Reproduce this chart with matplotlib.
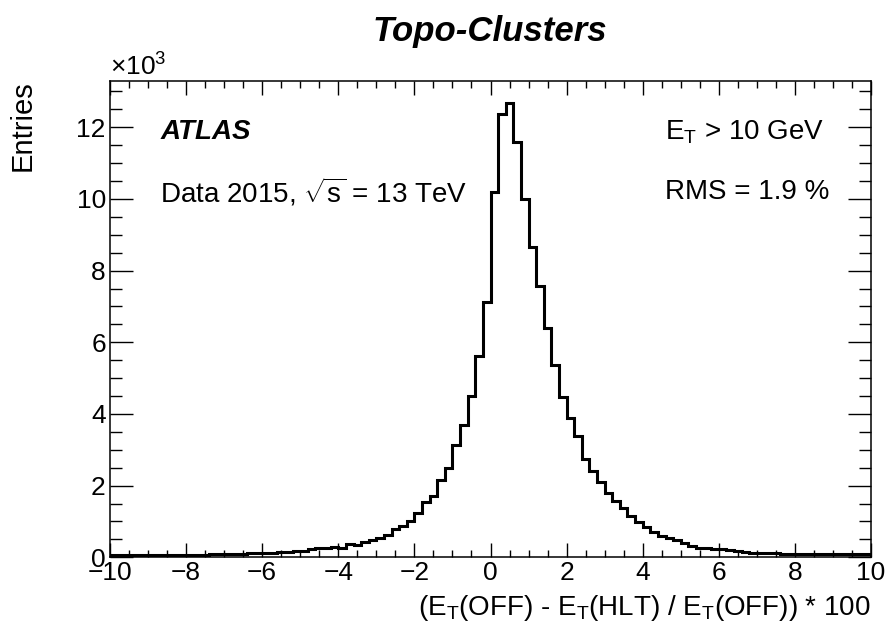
import numpy as np
import matplotlib
matplotlib.use('Agg')
import matplotlib.pyplot as plt
from matplotlib.ticker import MultipleLocator, FuncFormatter

plt.rcParams['font.family'] = ['Liberation Sans', 'DejaVu Sans']
plt.rcParams['mathtext.fontset'] = 'custom'
plt.rcParams['mathtext.rm'] = 'Liberation Sans'
plt.rcParams['mathtext.it'] = 'Liberation Sans:italic'

# histogram range and entries per 0.2 wide bin
x_lo, x_hi, n_bins = -10., 10., 100
entries = [
    60, 60, 62, 62, 65, 65, 68, 68, 70, 72,
    72, 75, 78, 80, 85, 90, 95, 100, 110, 120,
    130, 130, 140, 150, 170, 190, 220, 250, 250,
    280, 270, 360, 340, 420, 470, 530, 620, 780, 870, 1010, 1230,
    1540, 1720, 2160, 2490, 3140, 3700, 4490, 5630, 7130,
    10200, 12380, 12680, 11580, 10000, 8650, 7560, 6400, 5370, 4470,
    3900, 3390, 2740, 2410, 2090, 1790, 1570, 1370, 1140, 980,
    850, 700, 600, 550, 480, 390, 320, 270, 250, 240,
    220, 200, 180, 160, 130,
    120, 110, 110, 100, 100, 100, 90, 90, 90, 80,
    80, 80, 80, 80, 90]

edges = np.linspace(x_lo, x_hi, n_bins + 1)

fig = plt.figure(figsize=(8.89, 6.4), dpi=100)
ax = fig.add_axes([0.1237, 0.1292, 0.8561, 0.7448])

ax.stairs(entries, edges, color='black', lw=2.2, baseline=0)

ax.set_xlim(x_lo, x_hi)
ax.set_ylim(0, 13300)

ax.xaxis.set_major_locator(MultipleLocator(2))
ax.xaxis.set_minor_locator(MultipleLocator(0.5))
ax.yaxis.set_major_locator(MultipleLocator(2000))
ax.yaxis.set_minor_locator(MultipleLocator(500))
ax.yaxis.set_major_formatter(FuncFormatter(lambda v, p: '%d' % round(v / 1000)))
ax.xaxis.set_major_formatter(FuncFormatter(
    lambda v, p: ('%d' % v).replace('-', '\u2212')))

ax.tick_params(axis='both', which='both', direction='in', top=True,
               right=True, labelsize=19, width=1)
ax.tick_params(axis='x', which='major', length=10, pad=3)
ax.tick_params(axis='x', which='minor', length=5)
ax.tick_params(axis='y', which='major', length=16.5, pad=3)
ax.tick_params(axis='y', which='minor', length=8.5)
for sp in ax.spines.values():
    sp.set_linewidth(1.1)

ax.set_xlabel(r'($\mathrm{E_T}$(OFF) - $\mathrm{E_T}$(HLT) / $\mathrm{E_T}$(OFF)) * 100',
              fontsize=20, loc='right')
ax.xaxis.set_label_coords(1.0, -0.075)
ax.set_ylabel('Entries', fontsize=21, loc='top')
ax.yaxis.set_label_coords(-0.096, 1.0)

ax.text(0.0, 1.0, r'$\times$10$^3$', transform=ax.transAxes,
        fontsize=19, ha='left', va='bottom')

fig.text(0.551, 0.951, 'Topo-Clusters', fontsize=25, fontweight='bold',
         fontstyle='italic', ha='center', va='center')

ax.text(0.066, 0.892, 'ATLAS', transform=ax.transAxes, fontsize=20,
        fontweight='bold', fontstyle='italic', ha='left', va='center')
ax.text(0.066, 0.766, r'Data 2015, $\sqrt{\mathrm{s}}$ = 13 TeV',
        transform=ax.transAxes, fontsize=20, ha='left', va='center')
ax.text(0.729, 0.892, r'$\mathrm{E_T}$ > 10 GeV', transform=ax.transAxes,
        fontsize=20, ha='left', va='center')
ax.text(0.729, 0.766, 'RMS = 1.9 %', transform=ax.transAxes,
        fontsize=20, ha='left', va='center')

fig.savefig('out.png', dpi=100)
